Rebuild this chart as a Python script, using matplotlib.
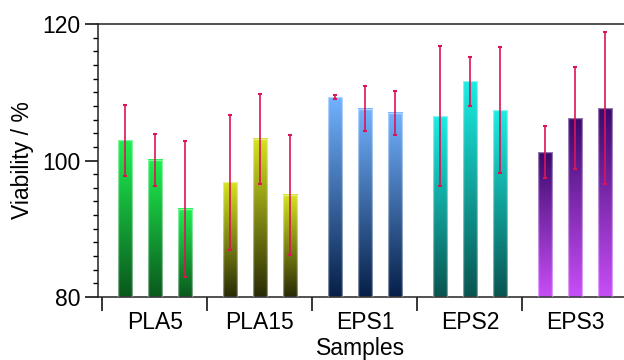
import numpy as np
import matplotlib
matplotlib.use("Agg")
import matplotlib.pyplot as plt
from matplotlib.colors import LinearSegmentedColormap

plt.rcParams['font.family'] = ['Liberation Sans', 'DejaVu Sans']

samples = ['PLA5', 'PLA15', 'EPS1', 'EPS2', 'EPS3']
viability = [
    [103.0, 100.1, 92.9],
    [96.8, 103.2, 95.0],
    [109.3, 107.6, 107.0],
    [106.5, 111.6, 107.4],
    [101.2, 106.2, 107.7],
]
errors = [
    [5.2, 3.8, 9.9],
    [9.9, 6.6, 8.8],
    [0.3, 3.3, 3.2],
    [10.3, 3.6, 9.2],
    [3.8, 7.5, 11.1],
]
# gradient colours (top, bottom) per sample group
grad_colors = [
    ('#1ef050', '#0a581c'),
    ('#d6e41e', '#282a06'),
    ('#72b2ff', '#061f48'),
    ('#1aeee4', '#095450'),
    ('#3a0a6c', '#c84ef7'),
]

fig = plt.figure(figsize=(6.24, 3.6), dpi=100)
ax = fig.add_axes([0.157, 0.175, 0.843, 0.758])

ymin, ymax = 80, 120
offsets = [-0.286, 0.0, 0.286]
width = 0.14

for i, (vals, errs, (ctop, cbot)) in enumerate(zip(viability, errors, grad_colors)):
    cmap = LinearSegmentedColormap.from_list('g%d' % i, [cbot, ctop])
    for off, v, e in zip(offsets, vals, errs):
        x = i + off
        grad = np.linspace(0, 1, 256).reshape(-1, 1)
        ax.imshow(grad, cmap=cmap, origin='lower', aspect='auto',
                  extent=[x - width / 2, x + width / 2, ymin, v], zorder=2)
        ax.bar(x, v - ymin, width, bottom=ymin, facecolor='none',
               edgecolor=(1, 1, 1, 0.45), linewidth=1.0, zorder=3)
        ax.errorbar(x, v, yerr=e, color='#dc1456', elinewidth=1.2,
                    capsize=1.5, capthick=1.5, zorder=4)

ax.set_xlim(-0.543, 4.467)
ax.set_ylim(ymin, ymax)

ax.set_yticks([80, 100, 120])
ax.set_yticks(np.arange(80, 121, 2), minor=True)
ax.tick_params(axis='y', which='major', direction='out', length=9.5, width=1.1,
               labelsize=16.5, pad=3)
ax.tick_params(axis='y', which='minor', direction='out', length=3.8, width=1.0)

ax.set_xticks(np.arange(len(samples)) - 0.5)
ax.set_xticklabels([])
ax.set_xticks(np.arange(len(samples)), minor=True)
ax.set_xticklabels(samples, minor=True)
ax.tick_params(axis='x', which='major', direction='out', length=10, width=1.1)
ax.tick_params(axis='x', which='minor', length=0, labelsize=16.5, pad=10)

ax.spines['right'].set_visible(False)
for s in ['left', 'top', 'bottom']:
    ax.spines[s].set_linewidth(1.1)
    ax.spines[s].set_color('#222222')

ax.set_ylabel('Viability / %', fontsize=16.5, labelpad=6)
ax.set_xlabel('Samples', fontsize=16.5, labelpad=2)

fig.savefig('out.png', dpi=100)
